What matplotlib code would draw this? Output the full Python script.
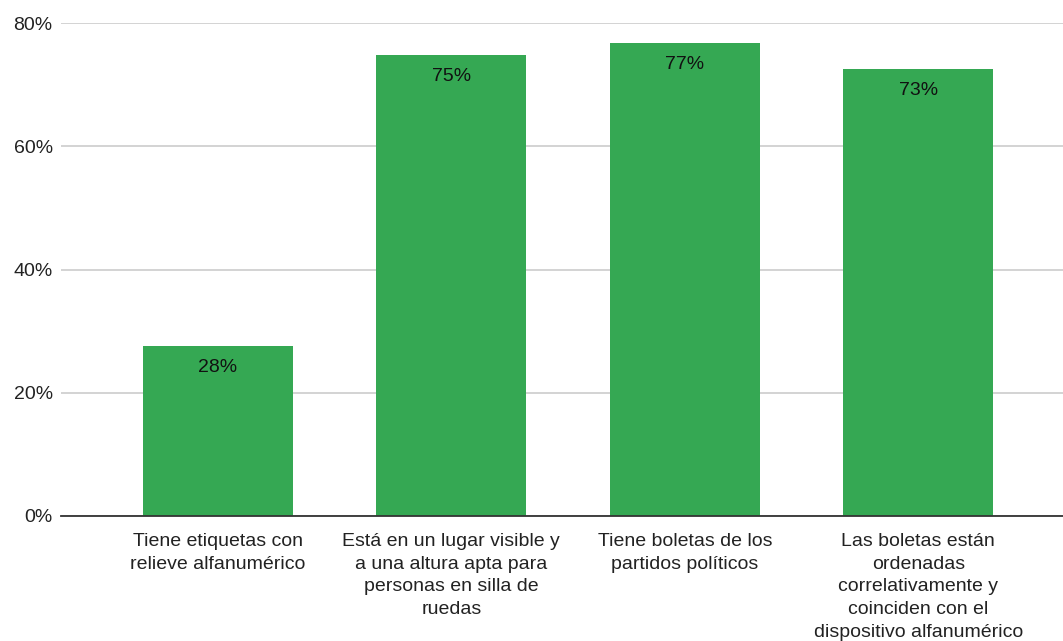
import matplotlib
matplotlib.use("Agg")
import matplotlib.pyplot as plt
from matplotlib.ticker import FuncFormatter

categories = [
    "Tiene etiquetas con\nrelieve alfanumérico",
    "Está en un lugar visible y\na una altura apta para\npersonas en silla de\nruedas",
    "Tiene boletas de los\npartidos políticos",
    "Las boletas están\nordenadas\ncorrelativamente y\ncoinciden con el\ndispositivo alfanumérico",
]
values = [0.276, 0.748, 0.768, 0.726]
yticks = [0, 0.2, 0.4, 0.6, 0.8]

plt.rcParams['font.family'] = ['Liberation Sans', 'DejaVu Sans']

fig = plt.figure(figsize=(10.63, 6.41), dpi=100)
ax = fig.add_axes([61/1063, 1 - 516/641, (1063 - 61)/1063, (516 - 23)/641])

x = list(range(len(categories)))
bars = ax.bar(x, values, width=0.642, color='#35a853', zorder=3)
ax.set_xlim(-0.672, 3.62)
ax.set_ylim(0, 0.8)
ax.set_yticks(yticks)
ax.yaxis.set_major_formatter(FuncFormatter(lambda v, p: f"{v*100:.0f}%"))
ax.grid(axis='y', color='#cccccc', linewidth=1.2, zorder=0)
ax.set_axisbelow(True)
for s in ['top', 'right', 'left']:
    ax.spines[s].set_visible(False)
ax.spines['bottom'].set_color('#333333')
ax.spines['bottom'].set_linewidth(1.3)
ax.spines['bottom'].set_zorder(4)
ax.tick_params(axis='y', length=0, pad=6, labelsize=14, labelcolor='#222222')
ax.tick_params(axis='x', length=0, pad=12, labelsize=14, labelcolor='#222222')
ax.set_xticks(x)
ax.set_xticklabels(categories, linespacing=1.45)

for xi, v in zip(x, values):
    ax.annotate(f"{v*100:.0f}%", (xi, v), xytext=(0, -9.5), textcoords='offset points',
                ha='center', va='top', fontsize=14, color='#111111', zorder=5)

fig.savefig("out.png", dpi=100)
